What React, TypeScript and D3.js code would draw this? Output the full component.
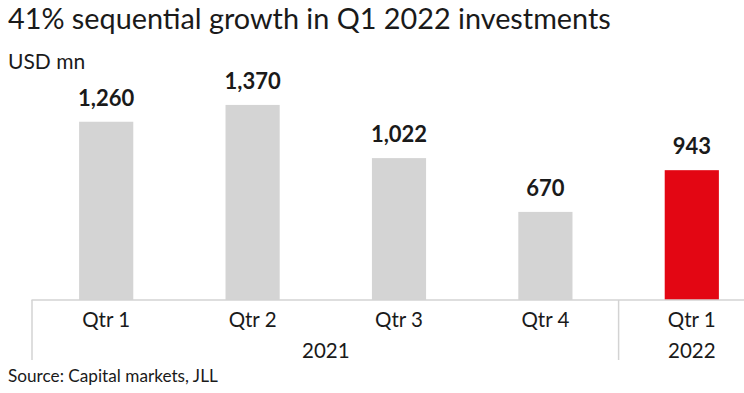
import React from "react";
import * as d3 from "d3";

const categories = ["Qtr 1 2021", "Qtr 2 2021", "Qtr 3 2021", "Qtr 4 2021", "Qtr 1 2022"];
const quarterLabels = ["Qtr 1", "Qtr 2", "Qtr 3", "Qtr 4", "Qtr 1"];
const values = [1260, 1370, 1022, 670, 943];
const highlight = [false, false, false, false, true];
const yearGroups = [
  { year: "2021", from: 0, to: 3 },
  { year: "2022", from: 4, to: 4 },
];

const W = 744;
const H = 393;
const FONT = "Lato, 'Source Sans Pro', 'Noto Sans', sans-serif";
const TEXT = "#1a1a1a";
const GRAY = "#d4d4d4";
const RED = "#e30613";
const AXIS = "#d3d3d3";

export default function App() {
  const x = d3
    .scaleBand<string>()
    .domain(categories)
    .range([33, 765])
    .paddingInner(0.63)
    .paddingOuter(0.315);
  const y = d3.scaleLinear().domain([0, 1500]).range([314.3, 314.3 - 0.15283 * 1500]);
  const axisY = 300;
  const bw = x.bandwidth();
  const step = x.step();
  const fmt = d3.format(",");

  const groupBounds = yearGroups.map((g, i) => {
    const x0 = (x(categories[g.from]) as number) - (step - bw) / 2;
    const lastCenter = (x(categories[g.to]) as number) + bw / 2;
    const x1 = i === yearGroups.length - 1 ? 2 * lastCenter - x0 : lastCenter + step / 2;
    return { ...g, x0, x1 };
  });

  return (
    <svg
      width={W}
      height={H}
      style={{ position: "absolute", left: 0, top: 0, background: "#fff" }}
      fontFamily={FONT}
    >
      <text x={8} y={28.5} fontSize={28.8} fill={TEXT}>
        41% sequential growth in Q1 2022 investments
      </text>
      <text x={8} y={69} fontSize={21} fill={TEXT}>
        USD mn
      </text>
      {values.map((v, i) => {
        const cx = (x(categories[i]) as number) + bw / 2;
        return (
          <g key={i}>
            <rect
              x={x(categories[i])}
              y={y(v)}
              width={bw}
              height={axisY - y(v)}
              fill={highlight[i] ? RED : GRAY}
            />
            <text
              x={cx}
              y={y(v) - 16}
              textAnchor="middle"
              fontSize={22}
              fontWeight="bold"
              fill={TEXT}
            >
              {fmt(v)}
            </text>
            <text x={cx} y={327.3} textAnchor="middle" fontSize={20.5} fill={TEXT}>
              {quarterLabels[i]}
            </text>
          </g>
        );
      })}
      <line x1={31.5} x2={W} y1={axisY} y2={axisY} stroke={AXIS} strokeWidth={1.5} />
      {groupBounds.map((g, i) => (
        <g key={g.year}>
          <line
            x1={g.x0 - (i === 0 ? 1 : 0)}
            x2={g.x0 - (i === 0 ? 1 : 0)}
            y1={axisY}
            y2={360}
            stroke={AXIS}
            strokeWidth={1.5}
          />
          <text x={(g.x0 + g.x1) / 2} y={357.7} textAnchor="middle" fontSize={20.5} fill={TEXT}>
            {g.year}
          </text>
        </g>
      ))}
      <text x={8} y={381.7} fontSize={17.2} fill={TEXT}>
        Source: Capital markets, JLL
      </text>
    </svg>
  );
}
